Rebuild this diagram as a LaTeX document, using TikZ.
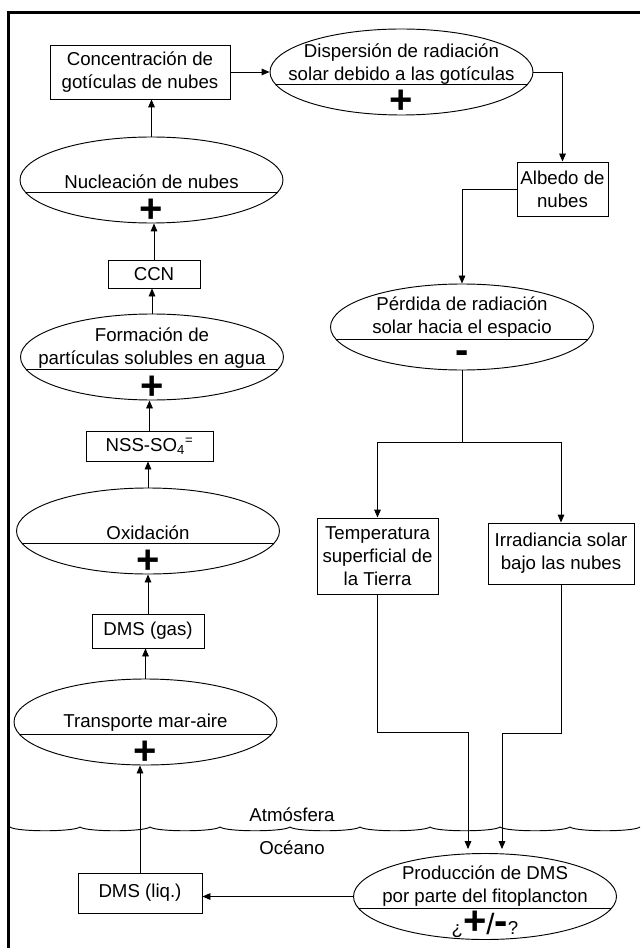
\documentclass[tikz,border=0pt]{standalone}
\usepackage{fontspec}
\setmainfont{Liberation Sans}
\usetikzlibrary{arrows.meta,shapes.geometric}

\tikzset{
  box/.style={draw, line width=0.7pt, inner sep=0pt, align=center},
  ell/.style={draw, ellipse, line width=0.7pt, inner sep=0pt,
    minimum width=197.25pt, minimum height=64.5pt},
  txt/.style={inner sep=0pt, align=center},
  sign/.style={inner sep=0pt, font=\fontsize{30}{30}\selectfont\bfseries},
  arr/.style={-{Triangle[length=6pt,width=5pt]}, line width=0.7pt},
}

\begin{document}
\begin{tikzpicture}[x=0.75pt, y=-0.75pt, font=\fontsize{14}{17.25}\selectfont]
    \useasboundingbox (0,0) rectangle (640,948);
    % \draw[help lines,step=20] (0,0) grid (640,948);
    \draw[line width=1.9pt] (640,12.5) -- (8.5,12.5) -- (8.5,948);

    % left column, bottom to top
    \node[box, minimum width=93pt, minimum height=30pt] (liq) at (140,893) {DMS (liq.)};
    \node[ell] (trans) at (145.5,722) {};
    \node[txt] at (145.5,723) {Transporte mar-aire};
    \node[sign] at (145.5,753) {+};
    \node[box, minimum width=84pt, minimum height=25.5pt] (gas) at (148,631) {DMS (gas)};
    \node[ell] (oxi) at (148,531) {};
    \node[txt] at (148,533) {Oxidación};
    \node[sign] at (148,562) {+};
    \node[box, minimum width=95.25pt, minimum height=22.5pt] (nss) at (149.5,446) {NSS-SO\textsubscript{4}\textsuperscript{=}};
    \node[ell] (form) at (152,357) {};
    \node[txt] at (152,348) {Formación de\\partículas solubles en agua};
    \node[sign] at (152,388) {+};
    \node[box, minimum width=69pt, minimum height=21pt] (ccn) at (154,274) {CCN};
    \node[ell] (nuc) at (151.5,180) {};
    \node[txt] at (151.5,182) {Nucleación de nubes};
    \node[sign] at (151.5,211) {+};
    \node[box, minimum width=135pt, minimum height=40.5pt] (conc) at (140,72) {Concentración de\\gotículas de nubes};

    % right column
    \node[ell] (disp) at (401.5,72) {};
    \node[txt] at (401.5,64) {Dispersión de radiación\\solar debido a las gotículas};
    \node[sign] at (401.5,102) {+};
    \node[box, minimum width=68.25pt, minimum height=40.5pt] (alb) at (562.5,189) {Albedo de\\nubes};
    \node[ell] (perd) at (462,327) {};
    \node[txt] at (462,317) {Pérdida de radiación\\solar hacia el espacio};
    \node[sign] at (462,357) {-};
    \node[box, minimum width=90.75pt, minimum height=57pt] (temp) at (377.5,556) {Temperatura\\superficial de\\la Tierra};
    \node[box, minimum width=109.5pt, minimum height=45.75pt] (irr) at (561,553.5) {Irradiancia solar\\bajo las nubes};
    \node[ell] (prod) at (485,896.5) {};
    \node[txt] at (485,886) {Producción de DMS\\por parte del fitoplancton};
    \node[txt] at (485,924) {¿{\fontsize{30}{30}\selectfont\bfseries+}{\fontsize{22}{22}\selectfont/}{\fontsize{30}{30}\selectfont\bfseries-}?};

    % split lines of the ellipses
    \foreach \n in {disp,nuc,form,oxi,trans,perd,prod}
        \draw[line width=0.7pt] (\n.center) ++(-126,12) -- ++(252,0);

    % sea surface
    \foreach \x in {10,80,...,570}
        \draw[line width=0.7pt] (\x,827) .. controls ({\x+6},832) and ({\x+64},832) .. ({\x+70},827);
    \node[txt] (atm) at (292,815) {Atmósfera};
    \node[txt] (oce) at (292,848) {Océano};

    % connectors
    \draw[arr] (liq.north) -- (liq.north |- trans.south);
    \draw[arr] (trans.north) -- (trans.north |- gas.south);
    \draw[arr] (gas.north) -- (gas.north |- oxi.south);
    \draw[arr] (oxi.north) -- (oxi.north |- nss.south);
    \draw[arr] (nss.north) -- (nss.north |- form.south);
    \draw[arr] (form.north) -- (form.north |- ccn.south);
    \draw[arr] (ccn.north) -- (ccn.north |- nuc.south);
    \draw[arr] (nuc.north) -- (nuc.north |- conc.south);
    \draw[arr] (conc) -- (disp);
    \draw[arr] (disp.east) -| (alb.north);
    \draw[arr] (alb.west) -| (perd.north);
    \draw[line width=0.7pt] (perd.south) -- ++(0,72) coordinate (fork);
    \draw[arr] (fork) -| (temp.north);
    \draw[arr] (fork) -| (irr.north);
    \draw[arr] (temp.south) -- ++(0,138) -| ([xshift=-12.75pt,yshift=3pt]prod.north);
    \draw[arr] (irr.south) -- ++(0,148.5) -| ([xshift=12.75pt,yshift=3pt]prod.north);
    \draw[arr] (prod.west) -- (prod.west -| liq.east);
\end{tikzpicture}
\end{document}
